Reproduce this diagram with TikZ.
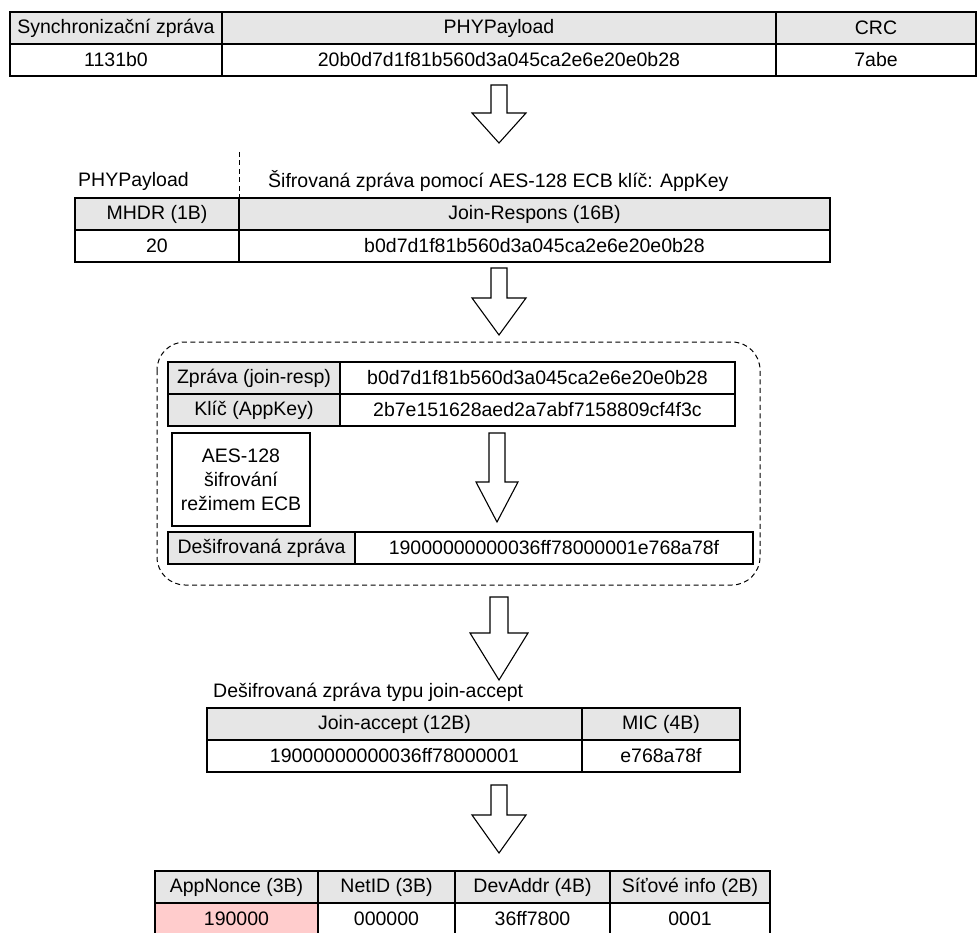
\documentclass[tikz,border=0pt]{standalone}
\usepackage{fontspec}
\setmainfont{Liberation Sans}
\usetikzlibrary{positioning}

\definecolor{hdrgray}{RGB}{230,230,230}
\definecolor{noncepink}{RGB}{255,204,204}
\newcommand{\diagfont}{\fontsize{19.5}{24}\selectfont}

% block arrow: x, top, shoulder, tip, half stem, half head
\newcommand{\blockarrow}[6]{%
  \draw[blk] (#1-#5,#2) -- (#1+#5,#2) -- (#1+#5,#3) -- (#1+#6,#3)
    -- (#1,#4) -- (#1-#6,#3) -- (#1-#5,#3) -- cycle;}

\tikzset{
  cell/.style={draw, line width=1.1pt, minimum height=32pt, inner sep=0pt,
    outer sep=0pt, anchor=north west, font=\diagfont},
  hcell/.style={cell, fill=hdrgray},
  lbl/.style={anchor=west, inner sep=0pt, font=\diagfont},
  blk/.style={draw, line width=1.1pt, fill=white},
  sepline/.style={line width=1pt, dash pattern=on 5pt off 3.5pt},
}

\begin{document}
\begin{tikzpicture}[x=1pt, y=-1pt]
  \useasboundingbox (0,0) rectangle (977,933);
  \clip (0,0) rectangle (977,933);

  % received frame
  \node[hcell, minimum width=212pt] (sync) at (10,12) {Synchronizační zpráva};
  \node[hcell, right=0pt of sync, minimum width=554pt] (phy) {PHYPayload};
  \node[hcell, right=0pt of phy, minimum width=200pt] (crc) {CRC};
  \node[cell, below=0pt of sync, minimum width=212pt] (syncv) {1131b0};
  \node[cell, below=0pt of phy, minimum width=554pt] (phyv) {20b0d7d1f81b560d3a045ca2e6e20e0b28};
  \node[cell, below=0pt of crc, minimum width=200pt] (crcv) {7abe};

  \blockarrow{499}{85}{113}{143}{8}{27}

  % PHYPayload split
  \node[lbl] (physec) at (78,181) {PHYPayload};
  \node[lbl] (encsec) at (268,181) {Šifrovaná zpráva pomocí AES-128 ECB klíč: AppKey};
  \node[hcell, minimum width=164pt] (mhdr) at (75,198) {MHDR (1B)};
  \node[hcell, right=0pt of mhdr, minimum width=591pt] (jresp) {Join-Respons (16B)};
  \node[cell, below=0pt of mhdr, minimum width=164pt] (mhdrv) {20};
  \node[cell, below=0pt of jresp, minimum width=591pt] (jrespv) {b0d7d1f81b560d3a045ca2e6e20e0b28};
  \coordinate (cut) at (239,152);
  \draw[sepline] (cut) -- (mhdr.north east);

  \blockarrow{499}{268}{298}{335}{8}{27}

  % decryption block
  \draw[sepline, rounded corners=28pt] (157,342) rectangle (760,585);
  \node[hcell, minimum width=172pt] (msg) at (168,362) {Zpráva (join-resp)};
  \node[cell, right=0pt of msg, minimum width=395pt] (msgv) {b0d7d1f81b560d3a045ca2e6e20e0b28};
  \node[hcell, below=0pt of msg, minimum width=172pt] (key) {Klíč (AppKey)};
  \node[cell, below=0pt of msgv, minimum width=395pt] (keyv) {2b7e151628aed2a7abf7158809cf4f3c};
  \node[cell, minimum width=138pt, minimum height=93pt, align=center] (aes) at (172,433)
    {AES-128\\šifrování\\režimem ECB};
  \blockarrow{497}{433}{482}{522}{8}{21}
  \node[hcell, minimum width=187pt] (dec) at (168,532) {Dešifrovaná zpráva};
  \node[cell, right=0pt of dec, minimum width=398pt] (decv) {19000000000036ff78000001e768a78f};

  \blockarrow{499}{597}{633}{680}{9}{29}

  % join-accept
  \node[lbl] (jasec) at (213,692) {Dešifrovaná zpráva typu join-accept};
  \node[hcell, minimum width=375pt] (ja) at (207,708) {Join-accept (12B)};
  \node[hcell, right=0pt of ja, minimum width=158pt] (mic) {MIC (4B)};
  \node[cell, below=0pt of ja, minimum width=375pt] (jav) {19000000000036ff78000001};
  \node[cell, below=0pt of mic, minimum width=158pt] (micv) {e768a78f};

  \blockarrow{499}{785}{815}{853}{8}{27}

  % join-accept fields
  \node[hcell, minimum width=163pt] (anonce) at (155,871) {AppNonce (3B)};
  \node[hcell, right=0pt of anonce, minimum width=137pt] (netid) {NetID (3B)};
  \node[hcell, right=0pt of netid, minimum width=155pt] (devaddr) {DevAddr (4B)};
  \node[hcell, right=0pt of devaddr, minimum width=160pt] (netinfo) {Síťové info (2B)};
  \node[cell, fill=noncepink, below=0pt of anonce, minimum width=163pt] (anoncev) {190000};
  \node[cell, below=0pt of netid, minimum width=137pt] (netidv) {000000};
  \node[cell, below=0pt of devaddr, minimum width=155pt] (devaddrv) {36ff7800};
  \node[cell, below=0pt of netinfo, minimum width=160pt] (netinfov) {0001};
\end{tikzpicture}
\end{document}
